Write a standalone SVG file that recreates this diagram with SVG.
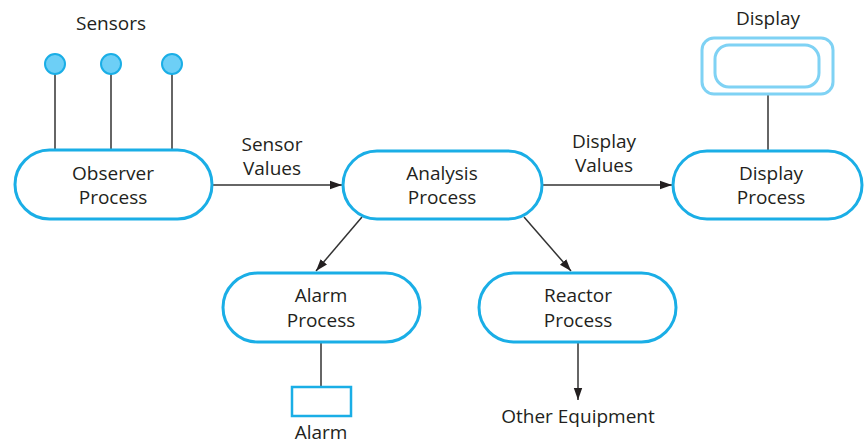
<svg xmlns="http://www.w3.org/2000/svg" width="864" height="445" viewBox="0 0 864 445">
<style>
.proc{fill:#fff;stroke:#1aaee6;stroke-width:3}
.t{font-family:"Open Sans","Noto Sans",sans-serif;font-size:19px;fill:#231f20;text-anchor:middle}
.ln{stroke:#333;stroke-width:1.5;fill:none}
.sensor{fill:#6dcff6;stroke:#1aaee6;stroke-width:2}
.dev{fill:#fff;stroke:#7fd2f4;stroke-width:3}
</style>
<defs>
<marker id="arr" viewBox="0 0 10 10" refX="10" refY="5" markerWidth="12" markerHeight="12" markerUnits="userSpaceOnUse" orient="auto">
<path d="M0,1.5 L10,5 L0,8.5 z" fill="#231f20"/>
</marker>
</defs>
<g id="connectors">
<line class="ln" x1="55" y1="74" x2="55" y2="150"/>
<line class="ln" x1="111" y1="74" x2="111" y2="150"/>
<line class="ln" x1="172" y1="74" x2="172" y2="150"/>
<line class="ln" x1="212" y1="185" x2="342" y2="185" marker-end="url(#arr)"/>
<line class="ln" x1="542" y1="185" x2="672" y2="185" marker-end="url(#arr)"/>
<line class="ln" x1="362" y1="217" x2="316" y2="271" marker-end="url(#arr)"/>
<line class="ln" x1="524" y1="217" x2="571" y2="271" marker-end="url(#arr)"/>
<line class="ln" x1="768" y1="94" x2="768" y2="151"/>
<line class="ln" x1="321" y1="342" x2="321" y2="387"/>
<line class="ln" x1="578" y1="342" x2="578" y2="400" marker-end="url(#arr)"/>
<text class="t" x="272" y="151">Sensor</text>
<text class="t" x="272" y="175">Values</text>
<text class="t" x="604" y="148">Display</text>
<text class="t" x="604" y="172">Values</text>
</g>
<g id="sensors">
<text class="t" x="111" y="30">Sensors</text>
<circle class="sensor" cx="55" cy="64" r="10"/>
<circle class="sensor" cx="111" cy="64" r="10"/>
<circle class="sensor" cx="172" cy="64" r="10"/>
</g>
<g id="observer">
<rect class="proc" x="15" y="150" width="197" height="69" rx="34.5"/>
<text class="t" x="113" y="180">Observer</text>
<text class="t" x="113" y="204">Process</text>
</g>
<g id="analysis">
<rect class="proc" x="343" y="151" width="199" height="68" rx="34"/>
<text class="t" x="442" y="180">Analysis</text>
<text class="t" x="442" y="204">Process</text>
</g>
<g id="display-process">
<rect class="proc" x="673" y="151" width="189" height="68" rx="34"/>
<text class="t" x="771" y="180">Display</text>
<text class="t" x="771" y="204">Process</text>
</g>
<g id="display">
<text class="t" x="768" y="25">Display</text>
<rect class="dev" x="702" y="38" width="131" height="56" rx="12"/>
<rect class="dev" x="715" y="45" width="104" height="42" rx="14"/>
</g>
<g id="alarm-process">
<rect class="proc" x="223" y="273" width="197" height="69" rx="34.5"/>
<text class="t" x="321" y="302">Alarm</text>
<text class="t" x="321" y="327">Process</text>
</g>
<g id="reactor-process">
<rect class="proc" x="479" y="273" width="197" height="69" rx="34.5"/>
<text class="t" x="578" y="302">Reactor</text>
<text class="t" x="578" y="327">Process</text>
</g>
<g id="alarm">
<rect x="292" y="387" width="59" height="29" fill="#fff" stroke="#1aaee6" stroke-width="2.5"/>
<text class="t" x="321" y="439">Alarm</text>
</g>
<g id="other-equipment">
<text class="t" x="578" y="423">Other Equipment</text>
</g>
</svg>
